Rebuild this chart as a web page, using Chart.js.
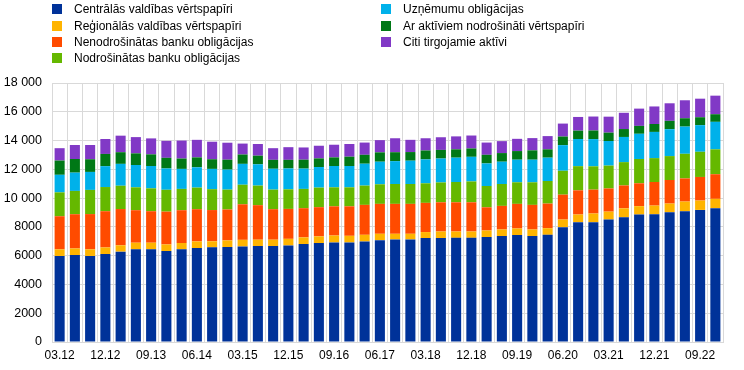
<!DOCTYPE html>
<html>
<head>
<meta charset="utf-8">
<script src="https://cdn.jsdelivr.net/npm/chart.js@4/dist/chart.umd.min.js"></script>
<style>
  body { margin: 0; background: #fff; }
  #wrap { position: relative; width: 744px; height: 370px; }
  #legend { position: absolute; left: 0; top: 0; width: 744px; height: 70px; font: 12px "Liberation Sans", Arial, sans-serif; color: #000; }
  .item { position: absolute; height: 16px; line-height: 16px; white-space: nowrap; }
  .box { position: absolute; left: 0; top: 3px; width: 10px; height: 10px; }
  .txt { position: absolute; left: 22px; top: 0; }
</style>
</head>
<body>
<div id="wrap">
  <canvas id="chart1" width="744" height="370"></canvas>
  <div id="legend"></div>
</div>
<script>
const labels = ['03.12', '06.12', '09.12', '12.12', '03.13', '06.13', '09.13', '12.13',
  '03.14', '06.14', '09.14', '12.14', '03.15', '06.15', '09.15', '12.15',
  '03.16', '06.16', '09.16', '12.16', '03.17', '06.17', '09.17', '12.17',
  '03.18', '06.18', '09.18', '12.18', '03.19', '06.19', '09.19', '12.19',
  '03.20', '06.20', '09.20', '12.20', '03.21', '06.21', '09.21', '12.21',
  '03.22', '06.22', '09.22', '12.22'];

const centralGov = [5980, 6040, 5980, 6110, 6280, 6440, 6440, 6320, 6440, 6530, 6580, 6600,
  6640, 6670, 6670, 6710, 6810, 6880, 6920, 6920, 6990, 7080, 7130, 7130,
  7220, 7220, 7240, 7240, 7290, 7360, 7430, 7360, 7450, 7980, 8330, 8330,
  8510, 8670, 8860, 8880, 9020, 9090, 9180, 9300];
const regionalGov = [460, 460, 460, 460, 440, 460, 460, 460, 440, 460, 420, 460,
  460, 440, 440, 460, 460, 460, 480, 460, 460, 440, 390, 390,
  420, 460, 440, 440, 460, 460, 460, 460, 460, 530, 530, 600,
  550, 620, 580, 600, 600, 670, 650, 650];
const unsecuredBank = [2300, 2380, 2450, 2520, 2520, 2260, 2190, 2280, 2280, 2240, 2170, 2150,
  2470, 2400, 2120, 2080, 2030, 2030, 2030, 2050, 2080, 2080, 2080, 2080,
  2030, 2030, 2030, 2030, 1610, 1640, 1710, 1710, 1710, 1730, 1680, 1660,
  1610, 1590, 1590, 1640, 1640, 1610, 1640, 1710];
const coveredBank = [1660, 1620, 1680, 1680, 1620, 1590, 1590, 1520, 1480, 1500, 1450, 1380,
  1360, 1360, 1360, 1360, 1340, 1360, 1320, 1320, 1340, 1360, 1380, 1380,
  1360, 1380, 1410, 1450, 1480, 1520, 1500, 1570, 1570, 1660, 1680, 1620,
  1590, 1620, 1690, 1660, 1660, 1710, 1750, 1730];
const corporate = [1220, 1270, 1250, 1450, 1520, 1550, 1550, 1480, 1390, 1410, 1410, 1390,
  1450, 1480, 1450, 1450, 1410, 1430, 1480, 1480, 1520, 1570, 1590, 1620,
  1660, 1660, 1690, 1710, 1570, 1550, 1570, 1570, 1620, 1780, 1890, 1890,
  1710, 1750, 1750, 1820, 1870, 1890, 1850, 1910];
const assetBacked = [990, 950, 880, 850, 810, 810, 810, 740, 720, 690, 670, 690,
  650, 600, 620, 600, 620, 600, 600, 650, 620, 650, 620, 600,
  620, 600, 580, 580, 600, 600, 600, 650, 580, 600, 580, 600,
  580, 550, 550, 550, 580, 580, 550, 530];
const otherAssets = [860, 970, 990, 1040, 1150, 1130, 1110, 1180, 1250, 1220, 1220, 1180,
  760, 810, 810, 880, 850, 880, 880, 880, 850, 850, 970, 850,
  850, 880, 900, 900, 850, 830, 850, 850, 920, 900, 950, 970,
  1110, 1130, 1200, 1220, 1220, 1250, 1290, 1290];

const seriesNames = [
  'Centrālās valdības vērtspapīri',
  'Reģionālās valdības vērtspapīri',
  'Nenodrošinātas banku obligācijas',
  'Nodrošinātas banku obligācijas',
  'Uzņēmumu obligācijas',
  'Ar aktīviem nodrošināti vērtspapīri',
  'Citi tirgojamie aktīvi'
];
const seriesData = [centralGov, regionalGov, unsecuredBank, coveredBank, corporate, assetBacked, otherAssets];
const seriesColors = ['#003299', '#FFB400', '#FF4B00', '#65B800', '#00B1EA', '#007816', '#8139C6'];

const font = { family: '"Liberation Sans", Arial, sans-serif', size: 12 };

function fmt(v) {
  if (v >= 10000) {
    return Math.floor(v / 1000) + ' ' + String(v % 1000).padStart(3, '0');
  }
  return String(v);
}

const chart1 = new Chart(document.getElementById('chart1'), {
  type: 'bar',
  data: {
    labels: labels,
    datasets: seriesNames.map((name, i) => ({
      label: name,
      data: seriesData[i],
      backgroundColor: seriesColors[i],
      borderWidth: 0,
      barPercentage: 0.66,
      categoryPercentage: 1
    }))
  },
  options: {
    responsive: false,
    animation: false,
    layout: {
      padding: { top: 83, right: 21, bottom: 0, left: 0 }
    },
    plugins: {
      legend: { display: false },
      tooltip: { enabled: false }
    },
    scales: {
      x: {
        stacked: true,
        grid: { color: '#d9d9d9', drawTicks: false, offset: true },
        border: { color: '#d9d9d9' },
        ticks: {
          color: '#000',
          font: font,
          autoSkip: false,
          maxRotation: 0,
          padding: 6,
          callback: function (value, index) {
            return index % 3 === 0 ? labels[index] : '';
          }
        },
        afterFit: function (scale) { scale.height = 28; }
      },
      y: {
        stacked: true,
        min: 0,
        max: 18000,
        grid: { color: '#d9d9d9', drawTicks: false },
        border: { color: '#d9d9d9' },
        ticks: {
          stepSize: 2000,
          color: '#000',
          font: { family: font.family, size: 12.5 },
          padding: 10,
          callback: function (value) { return fmt(value); }
        },
        afterFit: function (scale) { scale.width = 52; }
      }
    }
  }
});

// two-column legend, filled column by column
const legendEl = document.getElementById('legend');
const colX = [52, 381];
const rowY = [1, 18, 34, 50];
chart1.data.datasets.forEach((ds, i) => {
  const col = i < 4 ? 0 : 1;
  const row = i < 4 ? i : i - 4;
  const item = document.createElement('div');
  item.className = 'item';
  item.style.left = colX[col] + 'px';
  item.style.top = rowY[row] + 'px';
  item.innerHTML = '<span class="box" style="background:' + ds.backgroundColor + '"></span>' +
    '<span class="txt">' + ds.label + '</span>';
  legendEl.appendChild(item);
});
</script>
</body>
</html>
